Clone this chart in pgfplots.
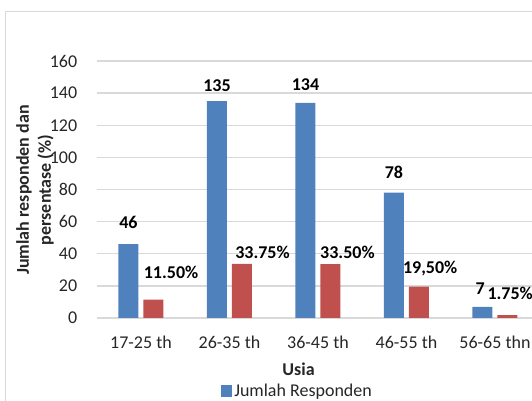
\documentclass[border=0pt]{standalone}
\usepackage{fontspec}
\setmainfont{Carlito}
\usepackage{pgfplots}
\pgfplotsset{compat=1.18}
\definecolor{barblue}{HTML}{4F81BD}
\definecolor{barred}{HTML}{C0504D}
\definecolor{gridc}{HTML}{D9D9D9}
\definecolor{txt}{HTML}{262626}
\begin{document}
\begin{tikzpicture}[font=\fontsize{18pt}{22pt}\selectfont]
\useasboundingbox (0,0) rectangle (532pt,401pt);
\clip (0,0) rectangle (532pt,401pt);
\draw[gridc, line width=1pt] (5.4pt,389.8pt) rectangle (580pt,-20pt);
\begin{axis}[
  at={(96.7pt,83pt)}, anchor=south west,
  scale only axis, width=442.5pt, height=257pt,
  xmin=-0.5, xmax=4.5, ymin=0, ymax=160,
  axis line style={draw=none},
  major tick length=0pt,
  ytick={0,20,...,160},
  xtick={0,1,2,3,4},
  xticklabels={17-25 th,26-35 th,36-45 th,46-55 th,56-65 thn},
  ymajorgrids, grid style={gridc, line width=1.3pt},
  /pgf/number format/assume math mode=true,
  yticklabel style={anchor=east, inner sep=0pt, xshift=-19.3pt},
  xticklabel style={anchor=center, inner sep=0pt, yshift=-24pt},
  ticklabel style={font=\fontsize{18pt}{22pt}\selectfont, text=txt},
  clip=false,
  legend style={at={(axis description cs:0.280,-0.284)}, anchor=west, draw=none, fill=none, inner sep=0pt, outer sep=0pt,
    nodes={inner sep=0pt, text=txt, font=\fontsize{18pt}{22pt}\selectfont}, /tikz/every odd column/.append style={column sep=2.5pt}},
  legend image code/.code={\fill[barblue] (0pt,-5.6pt) rectangle (11.2pt,5.6pt);},
]
\addplot[ybar, bar width=20pt, bar shift=-12.5pt, fill=barblue, draw=none]
  coordinates {(0,46) (1,135) (2,134) (3,78) (4,7)};
\addlegendentry{Jumlah Responden}
\addplot[forget plot, ybar, bar width=20pt, bar shift=12.5pt, fill=barred, draw=none]
  coordinates {(0,11.5) (1,33.75) (2,33.5) (3,19.5) (4,1.75)};
\addplot[forget plot, only marks, mark=none, nodes near coords, point meta=explicit symbolic,
  every node near coord/.append style={anchor=center, inner sep=0pt, text=black, font=\bfseries\fontsize{18pt}{22pt}\selectfont}]
  coordinates {(-0.141,59.2) [46] (0.859,144.5) [135] (1.859,145.1) [134] (2.859,90.7) [78] (3.833,18.4) [7]
  (0.340,28.6) [11.50\%] (1.373,41.1) [33.75\%] (2.333,41.1) [33.50\%] (3.268,30.5) [{19,50\%}] (4.172,15.4) [1.75\%]};
\end{axis}
\node[font=\bfseries\fontsize{18pt}{22pt}\selectfont, text=txt] at (298.6pt,32pt) {Usia};
\node[rotate=90, align=center, font=\bfseries\fontsize{18pt}{22pt}\selectfont, text=txt] at (35pt,211pt) {Jumlah responden dan\\persentase (\%)};
\end{tikzpicture}
\end{document}
